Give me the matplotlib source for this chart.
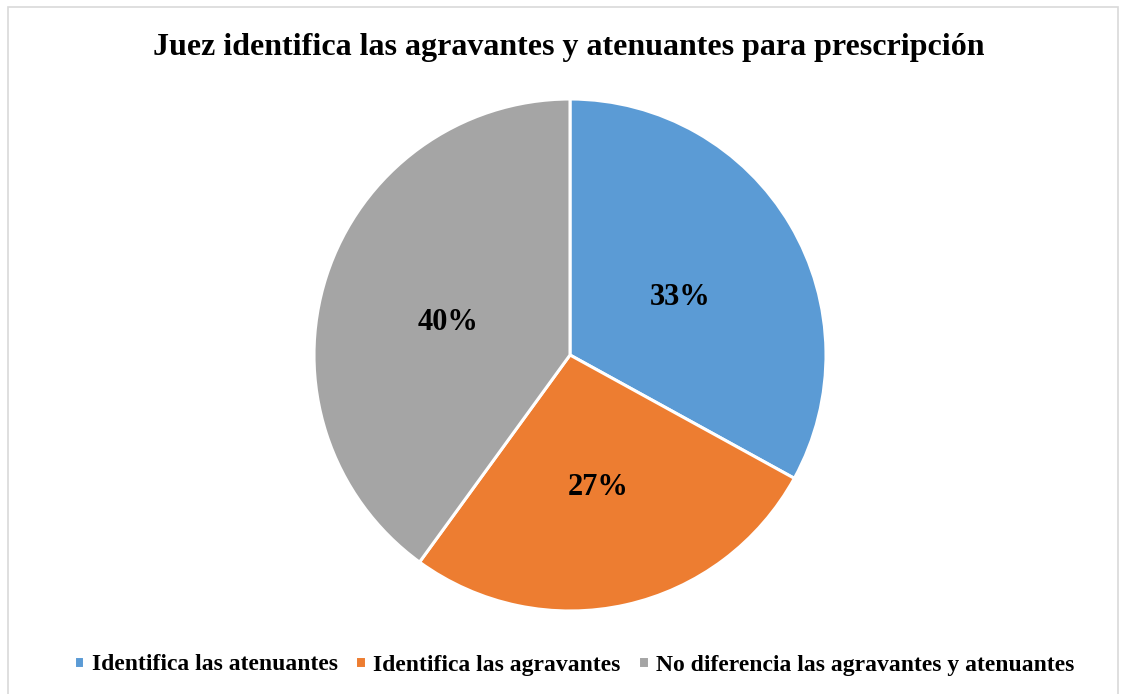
import matplotlib
matplotlib.use("Agg")
import matplotlib.pyplot as plt
from matplotlib.patches import Rectangle
import matplotlib.transforms as mtransforms

title = "Juez identifica las agravantes y atenuantes para prescripción"
categories = ["Identifica las atenuantes", "Identifica las agravantes",
              "No diferencia las agravantes y atenuantes"]
values = [33, 27, 40]
colors = ["#5B9BD5", "#ED7D31", "#A5A5A5"]

plt.rcParams['font.family'] = ['Liberation Serif', 'DejaVu Serif']

W, H = 1126, 694
fig = plt.figure(figsize=(W / 100, H / 100), dpi=100)

# border
fig.patches.append(Rectangle((8 / W, -0.01), (1118 - 8) / W, 1 - 7 / H + 0.01,
                             transform=fig.transFigure, fill=False,
                             edgecolor="#D9D9D9", linewidth=1.2))

cx, cy, r = 570, 355, 256
ax = fig.add_axes([(cx - r) / W, (H - cy - r) / H, 2 * r / W, 2 * r / H])
wedges, texts, autotexts = ax.pie(
    values, colors=colors, startangle=90, counterclock=False,
    autopct=lambda p: f"{p:.0f}%", pctdistance=0.5,
    wedgeprops=dict(edgecolor="white", linewidth=2.2),
    textprops=dict(fontsize=22, fontweight="bold", color="black"))
shift = mtransforms.ScaledTranslation(0, -4 / 100, fig.dpi_scale_trans)
for t in autotexts:
    t.set_va("center_baseline")
    t.set_transform(t.get_transform() + shift)
ax.set_aspect("equal")
ax.set_xlim(-1, 1)
ax.set_ylim(-1, 1)

fig.text(0.505, 1 - 48 / H, title, ha="center", va="center",
         fontsize=23, fontweight="bold")

fig.legend(wedges, categories, loc="center", bbox_to_anchor=(574 / W, 1 - 665 / H),
           ncol=3, frameon=False, prop=dict(size=17, weight="bold"),
           handlelength=0.45, handleheight=0.45, handletextpad=0.3,
           columnspacing=0.75)

fig.savefig("out.png", dpi=100)
